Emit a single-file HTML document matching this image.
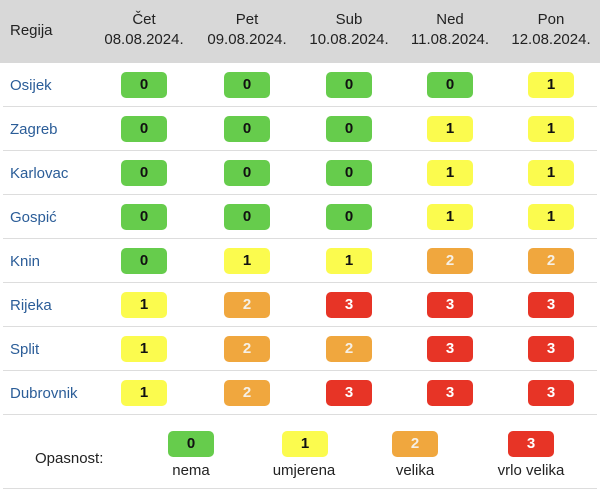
<!DOCTYPE html>
<html><head><style>
body{margin:0;width:600px;height:491px;background:#fff;font-family:"Liberation Sans",sans-serif;position:relative;overflow:hidden}
.hdr{position:absolute;left:0;top:0;width:600px;height:63px;background:#d8d8d8}
.t{position:absolute;font-size:15px;color:#222;text-align:center;line-height:20px}
.r{position:absolute;left:10px;font-size:15px;color:#2b5d98}
.line{position:absolute;left:3px;width:594px;height:1px;background:#ddd}
.b{position:absolute;width:46px;height:26px;border-radius:5px;font-weight:bold;font-size:15px;text-align:center;line-height:26px;color:#111}
.c0{background:#66cc4c}.c1{background:#fbfb4e}.c2{background:#f0a73e;color:#f5f0e6}.c3{background:#e73426;color:#fff}
</style></head><body>
<div class="hdr"></div>
<div class="t" style="left:10px;top:21px;text-align:left">Regija</div>
<div class="t" style="left:94px;width:100px;top:10px">Čet<br>08.08.2024.</div>
<div class="t" style="left:197px;width:100px;top:10px">Pet<br>09.08.2024.</div>
<div class="t" style="left:299px;width:100px;top:10px">Sub<br>10.08.2024.</div>
<div class="t" style="left:400px;width:100px;top:10px">Ned<br>11.08.2024.</div>
<div class="t" style="left:501px;width:100px;top:10px">Pon<br>12.08.2024.</div>
<div id="rows"></div>
<script>
var d=[["Osijek",0,0,0,0,1],["Zagreb",0,0,0,1,1],["Karlovac",0,0,0,1,1],["Gospić",0,0,0,1,1],["Knin",0,1,1,2,2],["Rijeka",1,2,3,3,3],["Split",1,2,2,3,3],["Dubrovnik",1,2,3,3,3]];
var cx=[144,247,349,450,551],h="";
d.forEach(function(r,i){var y=63+i*44;
h+='<div class="r" style="top:'+(y+14)+'px">'+r[0]+'</div>';
for(var j=0;j<5;j++)h+='<div class="b c'+r[j+1]+'" style="left:'+(cx[j]-23)+'px;top:'+(y+9)+'px">'+r[j+1]+'</div>';
h+='<div class="line" style="top:'+(y+43)+'px"></div>';});
document.getElementById("rows").innerHTML=h;
</script>
<div class="t" style="left:35px;top:449px">Opasnost:</div>
<div class="b c0" style="left:168px;top:431px">0</div>
<div class="b c1" style="left:282px;top:431px">1</div>
<div class="b c2" style="left:392px;top:431px">2</div>
<div class="b c3" style="left:508px;top:431px">3</div>
<div class="t" style="left:141px;width:100px;top:461px">nema</div>
<div class="t" style="left:254px;width:100px;top:461px">umjerena</div>
<div class="t" style="left:365px;width:100px;top:461px">velika</div>
<div class="t" style="left:481px;width:100px;top:461px">vrlo velika</div>
<div class="line" style="top:488px"></div>
</body></html>
